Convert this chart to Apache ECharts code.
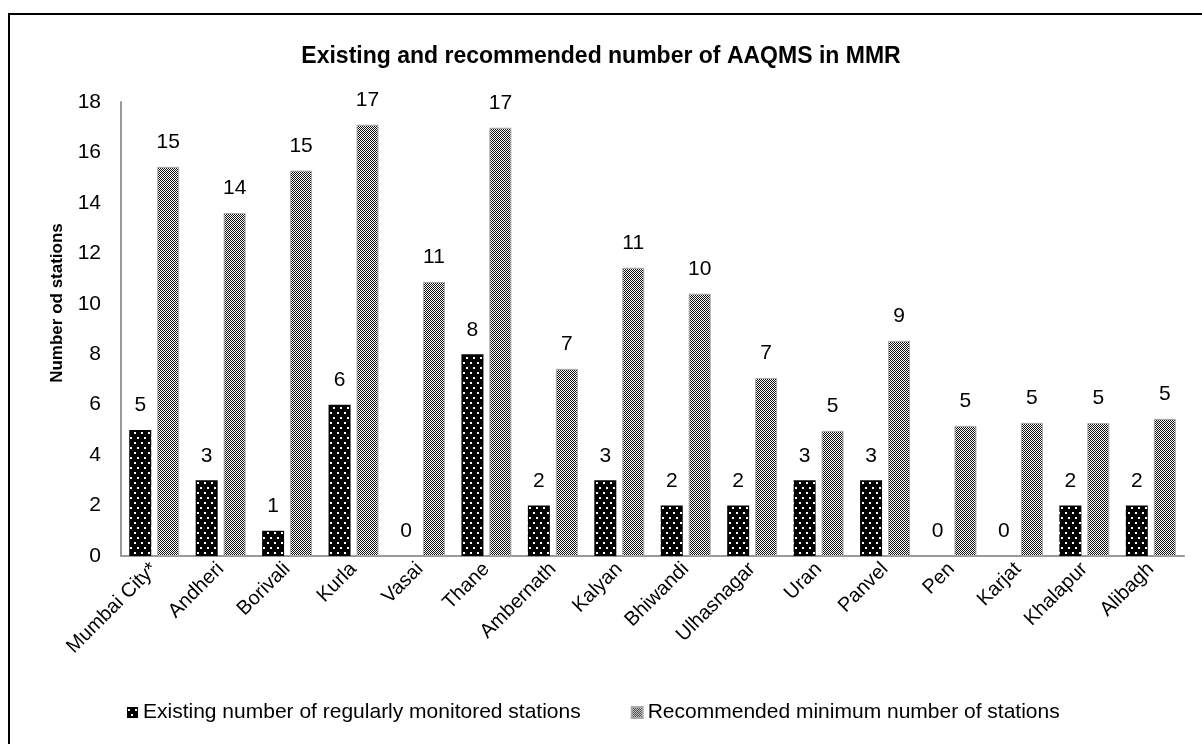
<!DOCTYPE html>
<html>
<head>
<meta charset="utf-8">
<script src="https://cdn.jsdelivr.net/npm/echarts@6/dist/echarts.min.js"></script>
<style>
  html, body { margin: 0; padding: 0; background: #fff; }
  #chart { width: 1202px; height: 744px; }
</style>
</head>
<body>
<div id="chart"></div>
<script>
var categories = ['Mumbai City*', 'Andheri', 'Borivali', 'Kurla', 'Vasai', 'Thane', 'Ambernath', 'Kalyan',
    'Bhiwandi', 'Ulhasnagar', 'Uran', 'Panvel', 'Pen', 'Karjat', 'Khalapur', 'Alibagh'];
var existing = [5, 3, 1, 6, 0, 8, 2, 3, 2, 2, 3, 3, 0, 0, 2, 2];
var recommended = [15.43, 13.6, 15.28, 17.1, 10.87, 16.98, 7.42, 11.43, 10.4, 7.06, 4.96, 8.53, 5.16, 5.28, 5.27, 5.44];
var seriesNames = ['Existing number of regularly monitored stations', 'Recommended minimum number of stations'];

var FONT = "'Liberation Sans', Arial, sans-serif";

// black with sparse white dots
function dotPattern() {
    var c = document.createElement('canvas');
    c.width = 7; c.height = 10;
    var ctx = c.getContext('2d');
    ctx.fillStyle = '#000';
    ctx.fillRect(0, 0, 7, 10);
    ctx.fillStyle = '#fff';
    ctx.fillRect(1, 2, 2, 2);
    ctx.fillRect(4, 7, 2, 2);
    return c;
}
// fine checker
function checkPattern() {
    var c = document.createElement('canvas');
    c.width = 2; c.height = 2;
    var ctx = c.getContext('2d');
    ctx.fillStyle = '#fff';
    ctx.fillRect(0, 0, 2, 2);
    ctx.fillStyle = '#111';
    ctx.fillRect(0, 0, 1, 1);
    ctx.fillRect(1, 1, 1, 1);
    return c;
}

var chart = echarts.init(document.getElementById('chart'));
var option = {
    animation: false,
    title: {
        text: 'Existing and recommended number of AAQMS in MMR',
        left: 'center',
        top: 40,
        textStyle: { fontFamily: FONT, fontSize: 23, fontWeight: 'bold', color: '#000' }
    },
    graphic: [
        {
            type: 'rect',
            shape: { x: 9, y: 14, width: 1300, height: 800 },
            style: { fill: 'none', stroke: '#000', lineWidth: 2 }
        },
        {
            type: 'text',
            x: 57, y: 303,
            rotation: Math.PI / 2,
            style: {
                text: 'Number od stations',
                font: 'bold 17px ' + FONT,
                fill: '#000',
                align: 'center',
                verticalAlign: 'middle'
            }
        }
    ],
    legend: {
        data: seriesNames,
        bottom: 16,
        left: 122,
        icon: 'rect',
        itemWidth: 11,
        itemHeight: 11,
        itemGap: 50,
        textStyle: { fontFamily: FONT, fontSize: 21, color: '#000' }
    },
    grid: { left: 121, right: 18, top: 102, bottom: 188 },
    xAxis: {
        type: 'category',
        data: categories,
        axisLine: { lineStyle: { color: '#999', width: 2 } },
        axisTick: { show: false },
        axisLabel: { rotate: 45, margin: 10, interval: 0, fontFamily: FONT, fontSize: 20, color: '#000' }
    },
    yAxis: {
        type: 'value',
        min: 0,
        max: 18,
        interval: 2,
        splitLine: { show: false },
        axisLine: { show: true, lineStyle: { color: '#999', width: 2 } },
        axisTick: { show: false },
        axisLabel: { margin: 20, fontFamily: FONT, fontSize: 21, color: '#000' }
    },
    series: [
        {
            name: seriesNames[0],
            type: 'bar',
            data: existing,
            barWidth: 22,
            barGap: '27%',
            itemStyle: { color: { image: dotPattern(), repeat: 'repeat' }, borderWidth: 0 },
            label: {
                show: true, position: 'top', distance: 14,
                fontFamily: FONT, fontSize: 21, color: '#000',
                formatter: function (p) { return Math.round(p.value); }
            }
        },
        {
            name: seriesNames[1],
            type: 'bar',
            data: recommended,
            barWidth: 22,
            itemStyle: { color: { image: checkPattern(), repeat: 'repeat' }, borderColor: '#aaa', borderWidth: 1 },
            label: {
                show: true, position: 'top', distance: 14,
                fontFamily: FONT, fontSize: 21, color: '#000',
                formatter: function (p) { return Math.round(p.value); }
            }
        }
    ]
};
chart.setOption(option);
</script>
</body>
</html>
